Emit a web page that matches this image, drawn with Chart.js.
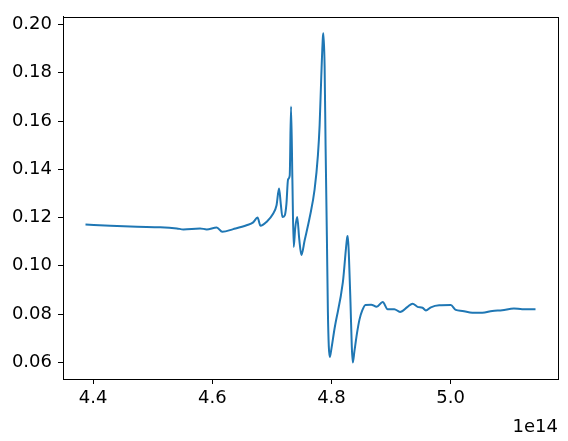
<!DOCTYPE html>
<html>
<head>
<meta charset="utf-8">
<script src="https://cdn.jsdelivr.net/npm/chart.js@4"></script>
<style>
  html, body { margin: 0; padding: 0; background: #fff; }
  canvas { display: block; }
</style>
</head>
<body>
<canvas id="myChart" width="568" height="441"></canvas>
<script>
// frequency, in units of 1e14
const freq = [
  4.3871, 4.4289, 4.4736, 4.5125, 4.5405, 4.5515, 4.5794, 4.5906, 4.6074, 4.6167,
  4.6351, 4.6575, 4.6686, 4.6759, 4.6809, 4.6910, 4.7020, 4.7077, 4.7120, 4.7149,
  4.7177, 4.7216, 4.7244, 4.7271, 4.7299, 4.7321, 4.7344, 4.7366, 4.7391, 4.7425,
  4.7458, 4.7495, 4.7550, 4.7634, 4.7717, 4.7773, 4.7801, 4.7829, 4.7856, 4.7865,
  4.7885, 4.7901, 4.7923, 4.7940, 4.7955, 4.7972, 4.7993, 4.8052, 4.8191, 4.8264,
  4.8274, 4.8294, 4.8319, 4.8341, 4.8358, 4.8386, 4.8428, 4.8470, 4.8520, 4.8570,
  4.8666, 4.8759, 4.8860, 4.8943, 4.9055, 4.9151, 4.9278, 4.9361, 4.9445, 4.9528,
  4.9585, 4.9669, 4.9808, 5.0003, 5.0087, 5.0197, 5.0365, 5.0532, 5.0699, 5.0866,
  5.1062, 5.1201, 5.1425
];

const values = [
  0.1171, 0.1166, 0.1162, 0.1160, 0.1155, 0.1151, 0.1155, 0.1151, 0.1159, 0.1141,
  0.1152, 0.1168, 0.1180, 0.1200, 0.1166, 0.1182, 0.1216, 0.1250, 0.1320, 0.1257,
  0.1202, 0.1209, 0.1257, 0.1358, 0.1374, 0.1660, 0.1358, 0.1078, 0.1155, 0.1202,
  0.1114, 0.1045, 0.1106, 0.1200, 0.1317, 0.1460, 0.1582, 0.1785, 0.1948, 0.1964,
  0.1826, 0.1500, 0.1122, 0.0809, 0.0667, 0.0622, 0.0647, 0.0740, 0.0931, 0.1118,
  0.1124, 0.1033, 0.0850, 0.0667, 0.0599, 0.0647, 0.0720, 0.0777, 0.0817, 0.0838,
  0.0839, 0.0830, 0.0850, 0.0820, 0.0820, 0.0809, 0.0830, 0.0843, 0.0830, 0.0826,
  0.0815, 0.0828, 0.0836, 0.0837, 0.0817, 0.0813, 0.0805, 0.0805, 0.0813, 0.0816,
  0.0823, 0.0820, 0.0820
];

const xTicks = [4.4, 4.6, 4.8, 5.0];
const yTicks = [0.06, 0.08, 0.10, 0.12, 0.14, 0.16, 0.18, 0.20];
const xOffsetLabel = '1e14';

let points = []
freq.forEach((f, i) => { points.push({x: f, y: values[i]}) })

// matplotlib style 5% margins
const pad = (arr) => {
  const lo = Math.min(...arr), hi = Math.max(...arr);
  const m = (hi - lo) * 0.05;
  return [lo - m, hi + m];
};
const [xMin, xMax] = pad(freq);
const [yMin, yMax] = pad(values);

Chart.defaults.font.family = '"DejaVu Sans", sans-serif';
Chart.defaults.font.size = 18;
Chart.defaults.color = '#000';

const frame = {
  id: 'frame',
  afterDraw(chart) {
    const {ctx, chartArea: a} = chart;
    ctx.save();
    ctx.strokeStyle = '#000';
    ctx.lineWidth = 1;
    ctx.strokeRect(Math.round(a.left) + 0.5, Math.round(a.top) + 0.5,
      Math.round(a.right - a.left), Math.round(a.bottom - a.top));
    ctx.font = '18px "DejaVu Sans", sans-serif';
    ctx.fillStyle = '#000';
    ctx.textAlign = 'right';
    ctx.textBaseline = 'alphabetic';
    ctx.fillText(xOffsetLabel, a.right, 432);
    ctx.restore();
  }
};

const tickGrid = {
  display: true,
  drawOnChartArea: false,
  drawTicks: true,
  tickLength: 5,
  tickWidth: 1,
  tickColor: '#000',
};

const config = {
  type: 'line',
  data: {
    datasets: [{
      data: points,
      borderColor: '#1f77b4',
      borderWidth: 2,
      pointRadius: 0,
      cubicInterpolationMode: 'monotone',
      fill: false,
    }]
  },
  options: {
    responsive: false,
    animation: false,
    parsing: false,
    layout: {padding: {top: 10, right: 10, left: 0, bottom: 0}},
    scales: {
      x: {
        type: 'linear',
        min: xMin,
        max: xMax,
        grid: tickGrid,
        border: {display: true, color: '#000', width: 1},
        afterBuildTicks: (scale) => { scale.ticks = xTicks.map(v => ({value: v})) },
        afterFit: (scale) => { scale.height = 62 },
        ticks: {
          padding: 4,
          maxRotation: 0,
          callback: (v) => v.toFixed(1),
        },
      },
      y: {
        type: 'linear',
        min: yMin,
        max: yMax,
        grid: tickGrid,
        border: {display: true, color: '#000', width: 1},
        afterBuildTicks: (scale) => { scale.ticks = yTicks.map(v => ({value: v})) },
        afterFit: (scale) => { scale.width = 63 },
        ticks: {
          padding: 6,
          callback: (v) => v.toFixed(2),
        },
      },
    },
    plugins: {
      legend: {display: false},
      tooltip: {enabled: false},
    },
  },
  plugins: [frame],
};

const myChart = new Chart(
  document.getElementById('myChart'),
  config
);
</script>
</body>
</html>
